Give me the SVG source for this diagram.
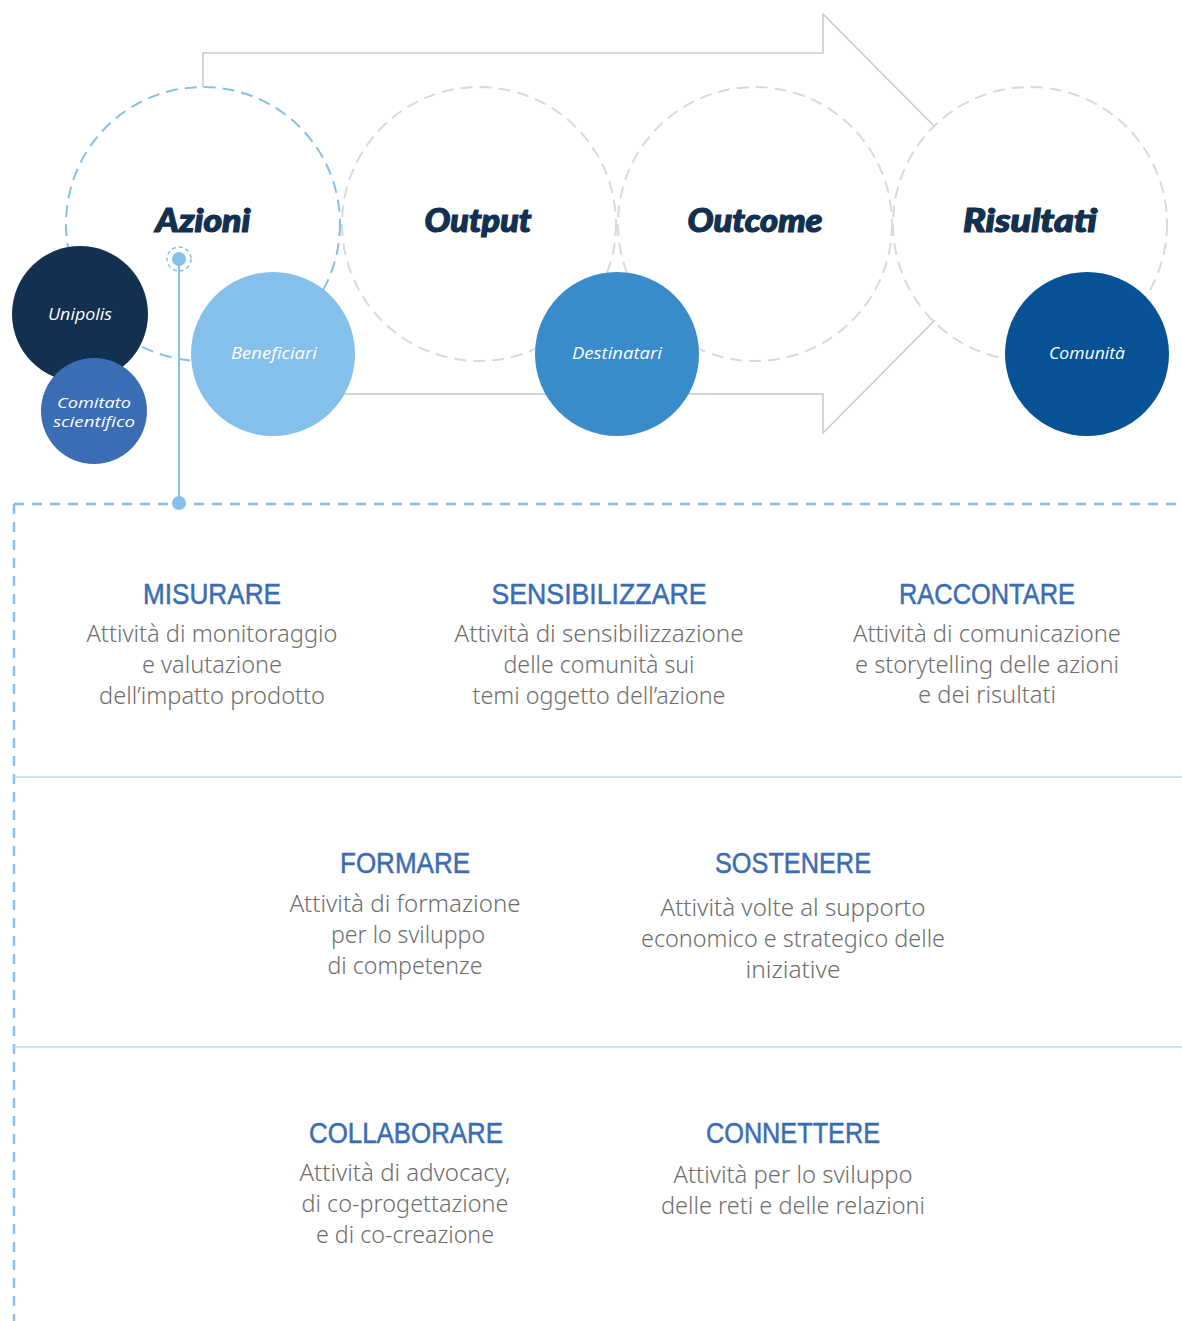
<svg xmlns="http://www.w3.org/2000/svg" width="1182" height="1321" viewBox="0 0 1182 1321">
<style>
.arrow{fill:none;stroke:#c9c9c9;stroke-width:1.5}
.dc{fill:none;stroke:#d9d9d9;stroke-width:2;stroke-dasharray:12 7}
.dcb{fill:none;stroke:#85c0eb;stroke-width:2;stroke-dasharray:12 7}
.title{font-family:Lato,"Liberation Sans",sans-serif;font-weight:900;font-style:italic;font-size:32px;fill:#12304f;stroke:#12304f;stroke-width:1.2;text-anchor:middle}
.lbl{font-family:"Open Sans","Liberation Sans",sans-serif;font-style:italic;font-size:17px;fill:#ffffff;text-anchor:middle}
.lbs{font-family:"Open Sans","Liberation Sans",sans-serif;font-style:italic;font-size:15px;fill:#ffffff;text-anchor:middle}
.h{font-family:"Liberation Sans",Arial,sans-serif;font-size:29px;fill:#3a6db3;stroke:#3a6db3;stroke-width:0.5;text-anchor:middle}
.b{font-family:"Noto Sans","Liberation Sans",sans-serif;font-weight:300;font-size:24px;fill:#6e6e6e;text-anchor:middle}
.bl{fill:none;stroke:#85c0eb;stroke-width:2.5;stroke-dasharray:10 8}
.div{stroke:#b9d9f0;stroke-width:1.5}
</style>
<rect width="1182" height="1321" fill="#ffffff"/>
<g id="connectors">
<polyline class="arrow" points="203,87 203,53 823,53 823,14 935,127"/>
<polyline class="arrow" points="935,320 823,433 823,394 340,394"/>
<line x1="179" y1="259" x2="179" y2="503" stroke="#85c0eb" stroke-width="2"/>
</g>
<g id="stage-circles">
<circle class="dcb" cx="203" cy="224" r="137"/>
<circle class="dc" cx="479" cy="224" r="137"/>
<circle class="dc" cx="755" cy="224" r="137"/>
<circle class="dc" cx="1030" cy="224" r="137"/>
</g>
<g id="titles">
<text class="title" x="203" y="232" textLength="95" lengthAdjust="spacingAndGlyphs">Azioni</text>
<text class="title" x="478" y="232" textLength="107" lengthAdjust="spacingAndGlyphs">Output</text>
<text class="title" x="755" y="232" textLength="135" lengthAdjust="spacingAndGlyphs">Outcome</text>
<text class="title" x="1030" y="232" textLength="134" lengthAdjust="spacingAndGlyphs">Risultati</text>
</g>
<g id="node-unipolis">
<circle cx="80" cy="314" r="68" fill="#12304f"/>
<text class="lbl" x="80" y="320" textLength="64" lengthAdjust="spacingAndGlyphs">Unipolis</text>
</g>
<g id="node-comitato">
<circle cx="94" cy="411" r="53" fill="#3a6db3"/>
<text class="lbs" x="94" y="408" textLength="74" lengthAdjust="spacingAndGlyphs">Comitato</text>
<text class="lbs" x="94" y="427" textLength="82" lengthAdjust="spacingAndGlyphs">scientifico</text>
</g>
<g id="node-beneficiari">
<circle cx="273" cy="354" r="82" fill="#85c0eb"/>
<text class="lbl" x="274" y="359" textLength="86" lengthAdjust="spacingAndGlyphs">Beneficiari</text>
</g>
<g id="node-destinatari">
<circle cx="617" cy="354" r="82" fill="#3a8bca"/>
<text class="lbl" x="617" y="359" textLength="90" lengthAdjust="spacingAndGlyphs">Destinatari</text>
</g>
<g id="node-comunita">
<circle cx="1087" cy="354" r="82" fill="#075294"/>
<text class="lbl" x="1087" y="359" textLength="76" lengthAdjust="spacingAndGlyphs">Comunità</text>
</g>
<g id="pin">
<circle cx="179" cy="259" r="12" fill="none" stroke="#85c0eb" stroke-width="1.5" stroke-dasharray="4 3"/>
<circle cx="179" cy="259" r="7" fill="#85c0eb"/>
<circle cx="179" cy="503" r="7" fill="#85c0eb"/>
</g>
<g id="frame">
<line class="bl" x1="14" y1="504" x2="1182" y2="504"/>
<line class="bl" x1="14" y1="504" x2="14" y2="1321"/>
<line class="div" x1="14" y1="777" x2="1182" y2="777"/>
<line class="div" x1="14" y1="1047" x2="1182" y2="1047"/>
</g>
<g id="node-misurare">
<text class="h" x="212" y="604" textLength="138" lengthAdjust="spacingAndGlyphs">MISURARE</text>
<text class="b" x="212" y="642" textLength="251" lengthAdjust="spacingAndGlyphs">Attività di monitoraggio</text>
<text class="b" x="212" y="673" textLength="140" lengthAdjust="spacingAndGlyphs">e valutazione</text>
<text class="b" x="212" y="704" textLength="226" lengthAdjust="spacingAndGlyphs">dell’impatto prodotto</text>
</g>
<g id="node-sensibilizzare">
<text class="h" x="599" y="604" textLength="215" lengthAdjust="spacingAndGlyphs">SENSIBILIZZARE</text>
<text class="b" x="599" y="642" textLength="289" lengthAdjust="spacingAndGlyphs">Attività di sensibilizzazione</text>
<text class="b" x="599" y="673" textLength="191" lengthAdjust="spacingAndGlyphs">delle comunità sui</text>
<text class="b" x="599" y="704" textLength="253" lengthAdjust="spacingAndGlyphs">temi oggetto dell’azione</text>
</g>
<g id="node-raccontare">
<text class="h" x="987" y="604" textLength="176" lengthAdjust="spacingAndGlyphs">RACCONTARE</text>
<text class="b" x="987" y="642" textLength="268" lengthAdjust="spacingAndGlyphs">Attività di comunicazione</text>
<text class="b" x="987" y="673" textLength="264" lengthAdjust="spacingAndGlyphs">e storytelling delle azioni</text>
<text class="b" x="987" y="703" textLength="138" lengthAdjust="spacingAndGlyphs">e dei risultati</text>
</g>
<g id="node-formare">
<text class="h" x="405" y="873" textLength="130" lengthAdjust="spacingAndGlyphs">FORMARE</text>
<text class="b" x="405" y="912" textLength="231" lengthAdjust="spacingAndGlyphs">Attività di formazione</text>
<text class="b" x="408" y="943" textLength="154" lengthAdjust="spacingAndGlyphs">per lo sviluppo</text>
<text class="b" x="405" y="974" textLength="155" lengthAdjust="spacingAndGlyphs">di competenze</text>
</g>
<g id="node-sostenere">
<text class="h" x="793" y="873" textLength="156" lengthAdjust="spacingAndGlyphs">SOSTENERE</text>
<text class="b" x="793" y="916" textLength="265" lengthAdjust="spacingAndGlyphs">Attività volte al supporto</text>
<text class="b" x="793" y="947" textLength="304" lengthAdjust="spacingAndGlyphs">economico e strategico delle</text>
<text class="b" x="793" y="978" textLength="95" lengthAdjust="spacingAndGlyphs">iniziative</text>
</g>
<g id="node-collaborare">
<text class="h" x="406" y="1143" textLength="194" lengthAdjust="spacingAndGlyphs">COLLABORARE</text>
<text class="b" x="405" y="1181" textLength="211" lengthAdjust="spacingAndGlyphs">Attività di advocacy,</text>
<text class="b" x="405" y="1212" textLength="207" lengthAdjust="spacingAndGlyphs">di co-progettazione</text>
<text class="b" x="405" y="1243" textLength="178" lengthAdjust="spacingAndGlyphs">e di co-creazione</text>
</g>
<g id="node-connettere">
<text class="h" x="793" y="1143" textLength="174" lengthAdjust="spacingAndGlyphs">CONNETTERE</text>
<text class="b" x="793" y="1183" textLength="239" lengthAdjust="spacingAndGlyphs">Attività per lo sviluppo</text>
<text class="b" x="793" y="1214" textLength="264" lengthAdjust="spacingAndGlyphs">delle reti e delle relazioni</text>
</g>
</svg>
